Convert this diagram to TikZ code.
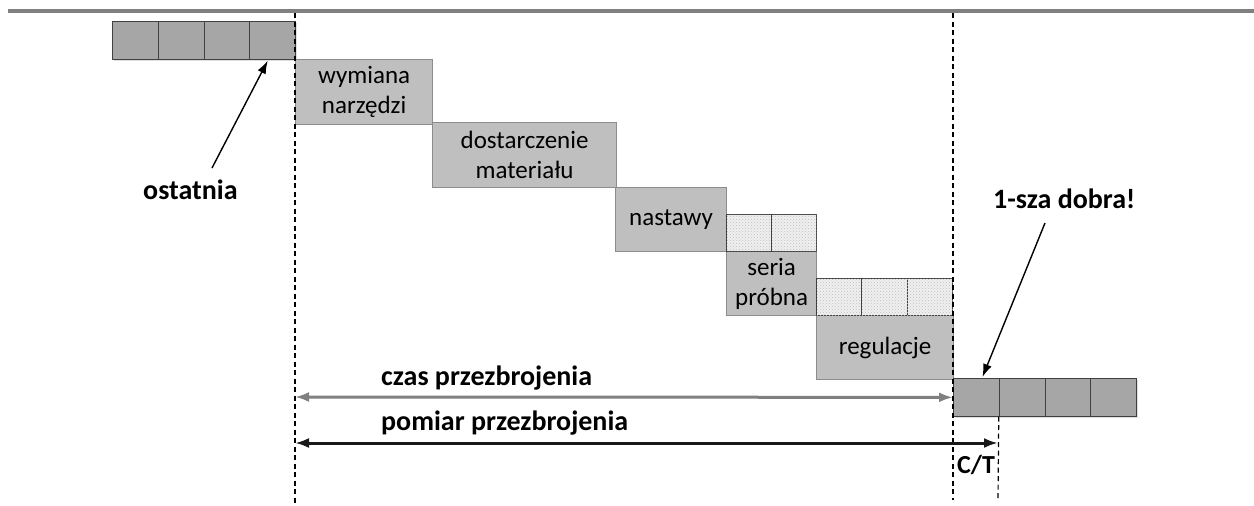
\documentclass[tikz,border=0pt]{standalone}
\usepackage{fontspec}
\setmainfont{Carlito}
\usetikzlibrary{patterns,shadows,arrows.meta}
\begin{document}
\begin{tikzpicture}[x=1pt,y=-1pt,
  part/.style={draw=black!75, line width=1.2pt, fill=black!35, minimum width=45.75pt, minimum height=37.5pt, inner sep=0pt, anchor=north west,
    drop shadow={shadow xshift=1.5pt, shadow yshift=-1.5pt, opacity=0.25}},
  trial/.style={draw=black!75, line width=1.2pt, fill=black!6, minimum width=45pt, minimum height=37pt, inner sep=0pt, anchor=north west,
    postaction={pattern=crosshatch dots, pattern color=black!25}},
  task/.style={draw=black!45, line width=1.2pt, fill=black!25, inner sep=0pt, anchor=north west, align=center,
    font=\fontsize{25}{30}\selectfont},
  lbl/.style={inner sep=0pt, anchor=base west, font=\bfseries\fontsize{28}{32}\selectfont},
  guide/.style={line width=1.2pt, dash pattern=on 5pt off 3.5pt},
  ptr/.style={-{Latex[length=13pt,width=9pt]}, line width=1.4pt},
  spanline/.style={{Latex[length=14pt,width=10pt]}-{Latex[length=14pt,width=10pt]}, line width=3pt}]
\useasboundingbox (0,0) rectangle (1254,506);

% top rule
\coordinate (ruleL) at (8,11);
\coordinate (ruleR) at (1254,11);
\draw[line width=4pt, black!50] (ruleL) -- (ruleR);

% last good parts
\node[part] (p1) at (112,21) {};
\node[part] (p2) at (157.75,21) {};
\node[part] (p3) at (203.5,21) {};
\node[part] (p4) at (249.25,21) {};

% changeover tasks
\node[task, minimum width=137pt, minimum height=65pt] (wym) at (295,59) {wymiana\\narzędzi};
\node[task, minimum width=184pt, minimum height=65pt] (dos) at (432,122) {dostarczenie\\materiału};
\node[task, minimum width=111pt, minimum height=64pt] (nas) at (615,187) {nastawy};
\node[task, minimum width=90pt, minimum height=64pt] (ser) at (726,251) {seria\\próbna};
\node[task, minimum width=137pt, minimum height=64pt] (reg) at (816,315) {regulacje};

% trial parts
\node[trial] (t1) at (726,214) {};
\node[trial] (t2) at (771,214) {};
\node[trial] (t3) at (816,278) {};
\node[trial, minimum width=45.5pt] (t4) at (861,278) {};
\node[trial, minimum width=45.5pt] (t5) at (906.5,278) {};

% first good parts
\node[part] (q1) at (953,378) {};
\node[part] (q2) at (998.75,378) {};
\node[part] (q3) at (1044.5,378) {};
\node[part] (q4) at (1090.25,378) {};

% guide lines
\coordinate (g1a) at (295,13);  \coordinate (g1b) at (295,506);
\coordinate (g2a) at (953,13);  \coordinate (g2b) at (953,500);
\coordinate (g3b) at (998,500);
\draw[guide] (g1a) -- (g1b);
\draw[guide] (g2a) -- (g2b);
\draw[guide] (q2.south west) -- (g3b);

% labels
\node[lbl] (ost) at (143,199) {ostatnia};
\node[lbl] (dobra) at (993,208) {1-sza dobra!};
\node[lbl] (czas) at (381,385) {czas przezbrojenia};
\node[lbl] (pomiar) at (381,430) {pomiar przezbrojenia};
\node[lbl, font=\bfseries\fontsize{26}{30}\selectfont] (ct) at (957,473) {C/T};

% pointers
\coordinate (ostT) at (212,168);
\draw[ptr] (ostT) -- ([xshift=-5pt,yshift=-1pt]p4.south);
\coordinate (dobT) at (1045,223);
\draw[ptr] (dobT) -- ([xshift=6pt,yshift=1pt]q1.north);

% spans
\coordinate (czasL) at (295,397);
\draw[spanline, black!50] (czasL) -- (q1.west);
\coordinate (pomL) at (295,443);
\coordinate (pomR) at (998,443);
\draw[spanline, black!90] (pomL) -- (pomR);
\end{tikzpicture}
\end{document}
